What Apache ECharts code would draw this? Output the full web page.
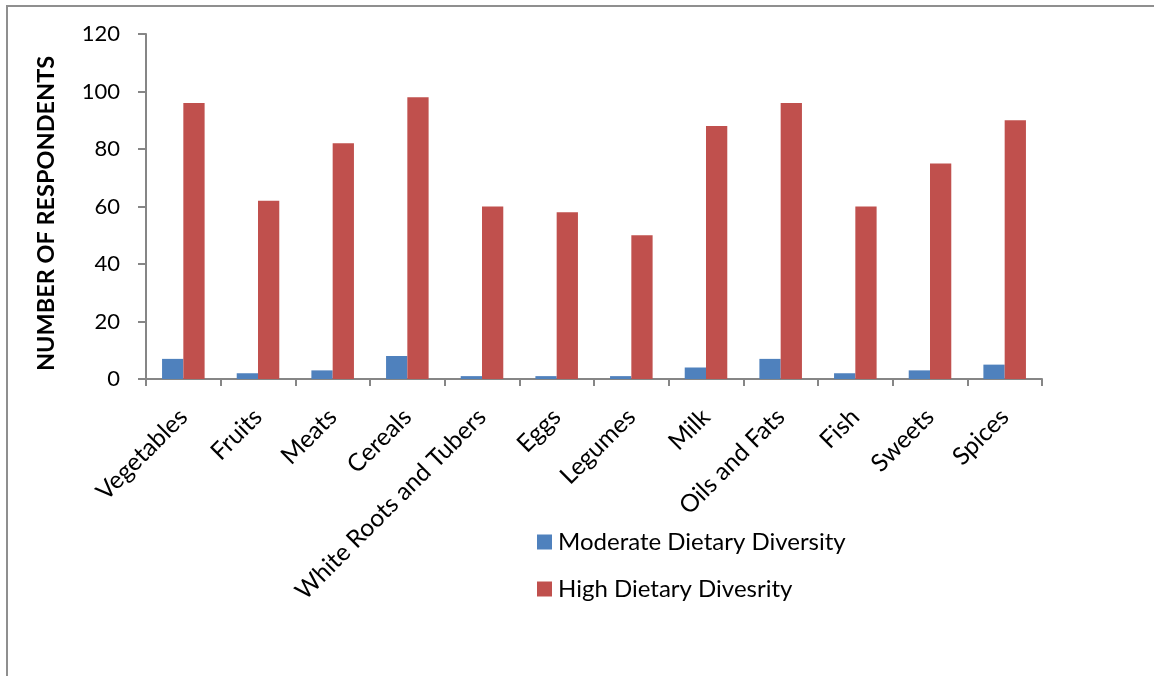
<!DOCTYPE html>
<html>
<head>
<meta charset="utf-8">
<script src="https://cdn.jsdelivr.net/npm/echarts@6/dist/echarts.min.js"></script>
<style>
  html, body { margin: 0; padding: 0; background: #fff; }
  #chart { width: 1154px; height: 676px; }
</style>
</head>
<body>
<div id="chart"></div>
<script>
// Food groups consumed, by dietary diversity level
const categories = ['Vegetables', 'Fruits', 'Meats', 'Cereals', 'White Roots and Tubers', 'Eggs', 'Legumes', 'Milk', 'Oils and Fats', 'Fish', 'Sweets', 'Spices'];
const moderateDiversity = [7, 2, 3, 8, 1, 1, 1, 4, 7, 2, 3, 5];
const highDiversity = [96, 62, 82, 98, 60, 58, 50, 88, 96, 60, 75, 90];
const yTicks = { min: 0, max: 120, interval: 20 };

const FONT = 'Lato, "Open Sans", sans-serif';
const axisGray = '#868686';

const chart = echarts.init(document.getElementById('chart'), null, { renderer: 'canvas' });
chart.setOption({
  backgroundColor: '#fff',
  animation: false,
  textStyle: { fontFamily: FONT },
  graphic: [{
    type: 'polyline',
    shape: { points: [[7, 676], [7, 6], [1154, 6]] },
    style: { stroke: '#8f8f8f', lineWidth: 2, fill: null }
  }],
  grid: { left: 146, top: 34, width: 896, height: 345 },
  legend: {
    orient: 'vertical',
    left: 532,
    top: 524,
    itemGap: 21,
    itemWidth: 15,
    itemHeight: 15,
    icon: 'rect',
    textStyle: { fontFamily: FONT, fontSize: 24, lineHeight: 26, color: '#000', padding: [0, 0, 0, 1] },
    data: ['Moderate Dietary Diversity', 'High Dietary Divesrity']
  },
  xAxis: {
    type: 'category',
    data: categories,
    axisLine: { lineStyle: { color: axisGray, width: 2 } },
    axisTick: { show: true, alignWithLabel: false, length: 7, lineStyle: { color: axisGray, width: 2 } },
    axisLabel: { rotate: 45, interval: 0, margin: 34, fontFamily: FONT, fontSize: 24.5, color: '#000' }
  },
  yAxis: {
    type: 'value',
    min: yTicks.min,
    max: yTicks.max,
    interval: yTicks.interval,
    name: 'NUMBER OF RESPONDENTS',
    nameLocation: 'middle',
    nameGap: 88,
    nameRotate: 90,
    nameTextStyle: { fontFamily: FONT, fontSize: 23.5, fontWeight: 'bold', color: '#000', padding: [0, 14, 0, 0] },
    axisLine: { show: true, lineStyle: { color: axisGray, width: 2 } },
    axisTick: { show: true, length: 8, lineStyle: { color: axisGray, width: 2 } },
    splitLine: { show: false },
    axisLabel: { margin: 26, fontFamily: FONT, fontSize: 22, color: '#000' }
  },
  series: [
    {
      name: 'Moderate Dietary Diversity',
      type: 'bar',
      data: moderateDiversity,
      barGap: '0%',
      barCategoryGap: '43%',
      itemStyle: { color: '#4F81BD' }
    },
    {
      name: 'High Dietary Divesrity',
      type: 'bar',
      data: highDiversity,
      barGap: '0%',
      barCategoryGap: '43%',
      itemStyle: { color: '#C0504D' }
    }
  ]
});
</script>
</body>
</html>
